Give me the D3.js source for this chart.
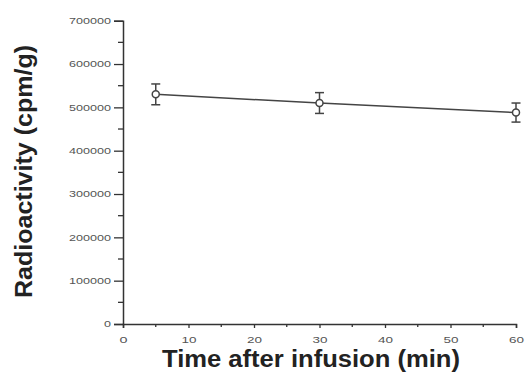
<!DOCTYPE html>
<html><head><meta charset="utf-8">
<script src="https://cdn.jsdelivr.net/npm/d3@7"></script>
<style>html,body{margin:0;padding:0;background:#fff;}svg{display:block;}</style>
</head><body>
<svg id="c" width="526" height="373"></svg>
<script>
const times = [5, 30, 60];
const values = [530000, 510000, 488000];
const errors = [24000, 24000, 22000];
const xTicks = [0, 10, 20, 30, 40, 50, 60];
const yTicks = [0, 100000, 200000, 300000, 400000, 500000, 600000, 700000];
const xLabel = "Time after infusion (min)";
const yLabel = "Radioactivity (cpm/g)";

const svg = d3.select("#c");
const x = d3.scaleLinear().domain([0, 60]).range([123, 516]);
const y = d3.scaleLinear().domain([0, 700000]).range([324, 20.7]);
const axisColor = "#333";

// y axis
const yAxis = svg.append("g").attr("transform", "translate(123,0)")
  .call(d3.axisLeft(y).tickValues(yTicks).tickSize(9).tickPadding(3).tickFormat(d3.format("d")));
yAxis.select(".domain").attr("stroke", axisColor).attr("stroke-width", 1.5);
yAxis.selectAll(".tick line").attr("stroke", axisColor).attr("stroke-width", 1.3);
yAxis.selectAll(".tick text").attr("font-family", "Arial, Liberation Sans, sans-serif")
  .attr("font-size", 9).attr("fill", "#555")
  .attr("textLength", d => String(d).length * 7).attr("lengthAdjust", "spacingAndGlyphs");
// minor y ticks
svg.append("g").selectAll("line").data(d3.range(50000, 700000, 100000)).join("line")
  .attr("x1", 118).attr("x2", 123).attr("y1", d => y(d)).attr("y2", d => y(d))
  .attr("stroke", axisColor).attr("stroke-width", 1.3);

// x axis
const xAxis = svg.append("g").attr("transform", "translate(0,324)")
  .call(d3.axisBottom(x).tickValues(xTicks).tickSize(4).tickPadding(9).tickFormat(d3.format("d")));
xAxis.select(".domain").attr("stroke", axisColor).attr("stroke-width", 1.5);
xAxis.selectAll(".tick line").attr("stroke", axisColor).attr("stroke-width", 1.3);
xAxis.selectAll(".tick text").attr("font-family", "Arial, Liberation Sans, sans-serif")
  .attr("font-size", 9).attr("fill", "#555")
  .attr("textLength", d => String(d).length * 7 + 1).attr("lengthAdjust", "spacingAndGlyphs");
svg.append("g").selectAll("line").data(d3.range(5, 60, 10)).join("line")
  .attr("x1", d => x(d)).attr("x2", d => x(d)).attr("y1", 324).attr("y2", 327)
  .attr("stroke", axisColor).attr("stroke-width", 1.3);

// axis titles
svg.append("text").attr("x", 311).attr("y", 367).attr("text-anchor", "middle")
  .attr("font-family", "Arial, Liberation Sans, sans-serif").attr("font-weight", "bold")
  .attr("font-size", 23).attr("fill", "#222")
  .attr("textLength", 298).attr("lengthAdjust", "spacingAndGlyphs").text(xLabel);
svg.append("text").attr("transform", "translate(32,171.5) rotate(-90)").attr("text-anchor", "middle")
  .attr("font-family", "Arial, Liberation Sans, sans-serif").attr("font-weight", "bold")
  .attr("font-size", 24).attr("fill", "#222")
  .attr("textLength", 253).attr("lengthAdjust", "spacingAndGlyphs").text(yLabel);

const data = times.map((t, i) => ({t, v: values[i], e: errors[i]}));
const col = "#444";
// line
svg.append("path").datum(data)
  .attr("d", d3.line().x(d => x(d.t)).y(d => y(d.v)))
  .attr("fill", "none").attr("stroke", col).attr("stroke-width", 1.5);
// error bars
const eb = svg.append("g").attr("stroke", col).attr("stroke-width", 1.5);
eb.selectAll(".v").data(data).join("line")
  .attr("x1", d => x(d.t)).attr("x2", d => x(d.t))
  .attr("y1", d => y(d.v + d.e)).attr("y2", d => y(d.v - d.e));
eb.selectAll(".t").data(data).join("line")
  .attr("x1", d => x(d.t) - 4.5).attr("x2", d => x(d.t) + 4.5)
  .attr("y1", d => y(d.v + d.e)).attr("y2", d => y(d.v + d.e));
eb.selectAll(".b").data(data).join("line")
  .attr("x1", d => x(d.t) - 4.5).attr("x2", d => x(d.t) + 4.5)
  .attr("y1", d => y(d.v - d.e)).attr("y2", d => y(d.v - d.e));
// markers
svg.append("g").selectAll("circle").data(data).join("circle")
  .attr("cx", d => x(d.t)).attr("cy", d => y(d.v)).attr("r", 3.5)
  .attr("fill", "#fff").attr("stroke", col).attr("stroke-width", 1.5);
</script>
</body></html>
